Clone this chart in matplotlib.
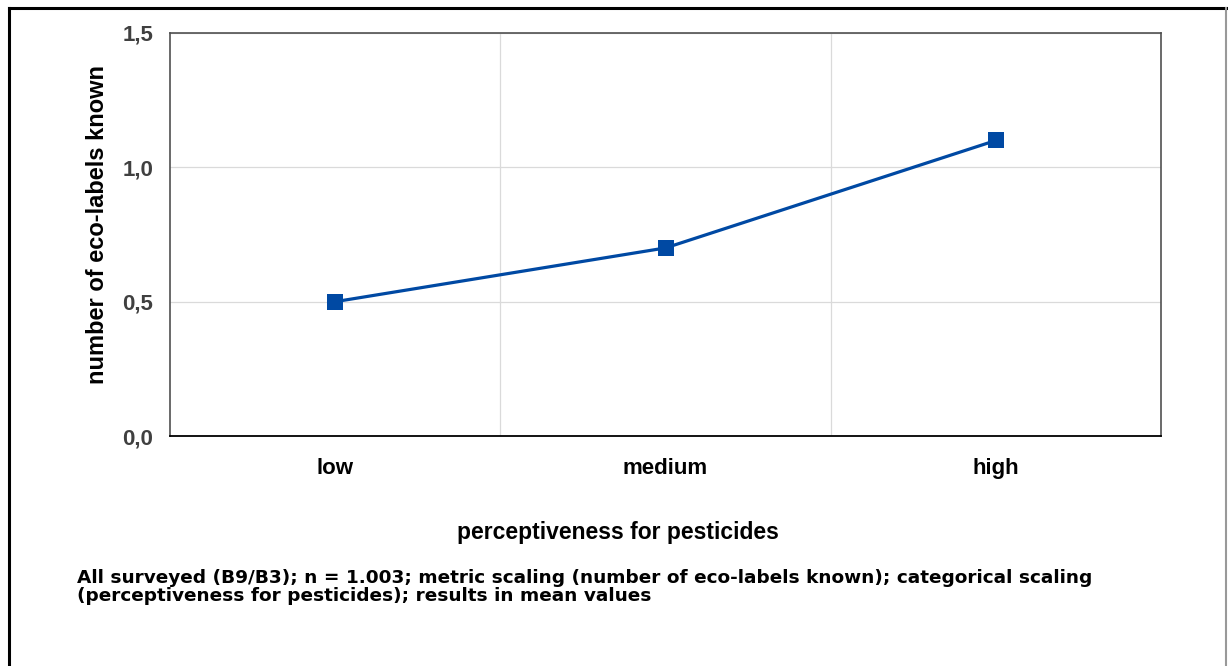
import numpy as np
import matplotlib.pyplot as plt
from matplotlib.lines import Line2D

categories = ["low", "medium", "high"]
mean_labels = [0.5, 0.7, 1.1]
yticks = [0.0, 0.5, 1.0, 1.5]
ytick_labels = ["0,0", "0,5", "1,0", "1,5"]

plt.rcParams['font.family'] = ['Liberation Sans', 'DejaVu Sans']

W, H = 1228, 666
fig = plt.figure(figsize=(W/100, H/100), dpi=100)
ax = fig.add_axes([170/W, 1 - 436/H, (1161 - 170)/W, (436 - 33)/H])

x = np.arange(len(categories))
ax.plot(x, mean_labels, color='#0049a3', lw=2.3, marker='s', ms=11.5,
        markeredgewidth=0, zorder=3)

ax.set_xlim(-0.5, len(categories) - 0.5)
ax.set_ylim(0, 1.5)
ax.set_yticks(yticks)
ax.set_yticklabels(ytick_labels)
ax.set_xticks(x)
ax.set_xticklabels(categories)

# category boundaries as vertical grid
ax.set_xticks(np.arange(0.5, len(categories) - 1), minor=True)
ax.grid(True, which='minor', axis='x', color='#dadada', lw=0.9)
ax.grid(True, which='major', axis='y', color='#dadada', lw=0.9)
ax.set_axisbelow(True)

ax.tick_params(which='both', length=0)
ax.tick_params(axis='y', pad=12, labelsize=16, labelcolor='#404040')
ax.tick_params(axis='x', pad=16, labelsize=16, labelcolor='black')
for lab in ax.get_yticklabels() + ax.get_xticklabels():
    lab.set_fontweight('bold')

for s in ['left', 'top', 'right']:
    ax.spines[s].set_color('#505050')
    ax.spines[s].set_linewidth(1.2)
ax.spines['bottom'].set_color('black')
ax.spines['bottom'].set_linewidth(1.3)

fig.text(98/W, 1 - 225/H, "number of eco-labels known", fontsize=17,
         fontweight='bold', rotation=90, ha='center', va='center')
fig.text(618/W, 1 - 532/H, "perceptiveness for pesticides", fontsize=16.5,
         fontweight='bold', ha='center', va='center')

fig.text(77/W, 1 - 587/H,
         "All surveyed (B9/B3); n = 1.003; metric scaling (number of eco-labels known); categorical scaling\n"
         "(perceptiveness for pesticides); results in mean values",
         fontsize=13.3, fontweight='bold', family='DejaVu Sans',
         va='center', ha='left', linespacing=1.0)

# frame around the whole picture
fig.add_artist(Line2D([8.5/W, 1226/W], [1 - 7.5/H, 1 - 7.5/H],
                      color='black', lw=2.2, transform=fig.transFigure))
fig.add_artist(Line2D([8.5/W, 8.5/W], [0, 1 - 7.5/H],
                      color='black', lw=2.2, transform=fig.transFigure))
fig.add_artist(Line2D([1226/W, 1226/W], [0, 1 - 8/H],
                      color='#999999', lw=1.5, transform=fig.transFigure))

fig.savefig("out.png", dpi=100)
